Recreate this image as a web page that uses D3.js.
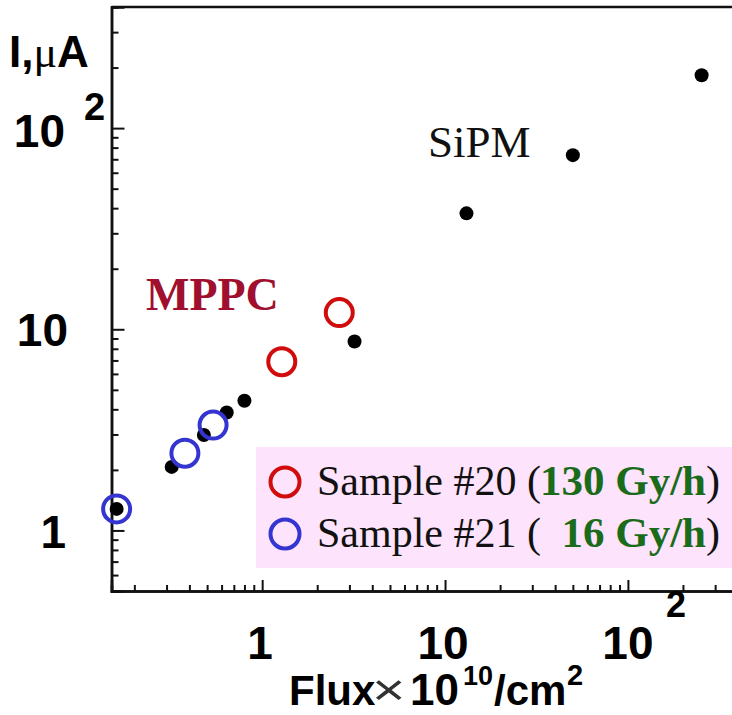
<!DOCTYPE html>
<html>
<head>
<meta charset="utf-8">
<script src="https://cdn.jsdelivr.net/npm/d3@7"></script>
<style>
  body { margin: 0; background: #fff; }
  svg { display: block; }
</style>
</head>
<body>
<svg id="chart"></svg>
<script>
// SiPM points (black dots)
var sipmFlux    = [0.16, 0.32, 0.48, 0.64, 0.80, 3.2, 13.1, 50, 253];
var sipmCurrent = [1.28, 2.07, 2.98, 3.86, 4.41, 8.7, 37.7, 73.4, 183];

// MPPC sample #20 (red) and #21 (blue)
var s20Flux    = [1.28, 2.64];
var s20Current = [6.9, 12.1];
var s21Flux    = [0.16, 0.378, 0.539];
var s21Current = [1.28, 2.42, 3.34];

var xMajor = [1, 10, 100];
var yMajor = [1, 10, 100];

var width = 732, height = 715;

var svg = d3.select("#chart")
    .attr("width", width)
    .attr("height", height);

svg.append("rect").attr("width", width).attr("height", height).attr("fill", "#fff");

var x = d3.scaleLog().domain([0.15, 400]).range([111.5, 738]);
var y = d3.scaleLog().domain([0.5, 400]).range([591, 7]);

// minor tick values
function minorTicks(lo, hi) {
    var out = [];
    for (var e = -1; e <= 2; e++) {
        for (var m = 2; m <= 9; m++) {
            var v = m * Math.pow(10, e);
            if (v > lo && v < hi) out.push(+v.toPrecision(3));
        }
    }
    return out;
}

// legend box (behind axes)
svg.append("rect")
    .attr("x", 256).attr("y", 447)
    .attr("width", 490).attr("height", 121)
    .attr("fill", "#fde3fb");

// axes
var gx = svg.append("g").attr("transform", "translate(0," + y(0.5) + ")");
gx.call(d3.axisBottom(x).tickValues(xMajor).tickSize(-11).tickFormat(""));
gx.append("g").call(d3.axisBottom(x).tickValues(minorTicks(0.15, 400)).tickSize(-6).tickFormat(""));

var gy = svg.append("g").attr("transform", "translate(" + x(0.15) + ",0)");
gy.call(d3.axisLeft(y).tickValues(yMajor).tickSize(-13).tickFormat(""));
gy.append("g").call(d3.axisLeft(y).tickValues(minorTicks(0.5, 400)).tickSize(-7).tickFormat(""));

svg.selectAll(".domain").attr("stroke", "#111").attr("stroke-width", 2.5);
svg.selectAll(".tick line").attr("stroke", "#111").attr("stroke-width", 2);

// top frame line
svg.append("line")
    .attr("x1", x(0.15)).attr("x2", width)
    .attr("y1", y(400)).attr("y2", y(400))
    .attr("stroke", "#111").attr("stroke-width", 2.5);

// tick labels
var bold = "'Liberation Sans', Arial, sans-serif";
var yLab = svg.append("g").attr("font-family", bold).attr("font-weight", "bold")
    .attr("font-size", 46).attr("fill", "#000");
yLab.append("text").attr("x", 66).attr("y", y(1) + 18).attr("text-anchor", "end").text("1");
yLab.append("text").attr("x", 68).attr("y", y(10) + 17).attr("text-anchor", "end").text("10");
yLab.append("text").attr("x", 65).attr("y", y(100) + 19).attr("text-anchor", "end").text("10");
yLab.append("text").attr("x", 84).attr("y", y(100) - 8).attr("font-size", 38).text("2");

var xLab = svg.append("g").attr("font-family", bold).attr("font-weight", "bold")
    .attr("font-size", 46).attr("fill", "#000").attr("text-anchor", "middle");
xLab.append("text").attr("x", x(1) - 2).attr("y", 659).text("1");
xLab.append("text").attr("x", x(10) - 2).attr("y", 659).text("10");
xLab.append("text").attr("x", x(100)).attr("y", 659).text("10");
xLab.append("text").attr("x", x(100) + 48).attr("y", 617).attr("font-size", 36).text("2");

// axis titles
var yt = svg.append("text").attr("x", 9).attr("y", 67)
    .attr("font-family", bold).attr("font-weight", "bold").attr("font-size", 44);
yt.append("tspan").text("I,");
yt.append("tspan").attr("font-family", "'Liberation Serif', serif").attr("font-weight", "normal").text("\u03bc");
yt.append("tspan").text("A");

var xt = svg.append("g").attr("font-family", bold).attr("font-weight", "bold")
    .attr("font-size", 42).attr("fill", "#000");
xt.append("text").attr("x", 289).attr("y", 705).text("Flux");
xt.append("text").attr("transform", "translate(372,705) scale(1.3,1)")
    .attr("font-weight", "normal").attr("font-size", 44).attr("fill", "#333").text("\u00d7");
xt.append("text").attr("x", 410).attr("y", 705).attr("font-size", 44).text("10");
xt.append("text").attr("x", 463).attr("y", 685).attr("font-size", 27).text("10");
xt.append("text").attr("x", 494).attr("y", 705).text("/cm");
xt.append("text").attr("x", 567).attr("y", 685).attr("font-size", 29).text("2");

// annotations
var serif = "'Liberation Serif', 'Times New Roman', serif";
svg.append("text").attr("x", 428).attr("y", 157)
    .attr("font-family", serif).attr("font-size", 45).attr("fill", "#111").text("SiPM");
svg.append("text").attr("x", 146).attr("y", 310)
    .attr("font-family", serif).attr("font-weight", "bold").attr("font-size", 46)
    .attr("fill", "#a0102e").text("MPPC");

// data marks
var sipm = sipmFlux.map(function(d, i) { return { x: d, y: sipmCurrent[i] }; });
var s20 = s20Flux.map(function(d, i) { return { x: d, y: s20Current[i] }; });
var s21 = s21Flux.map(function(d, i) { return { x: d, y: s21Current[i] }; });

svg.append("g").selectAll("circle").data(sipm).enter().append("circle")
    .attr("cx", d => x(d.x)).attr("cy", d => y(d.y))
    .attr("r", 7).attr("fill", "#000");

svg.append("g").selectAll("circle").data(s20).enter().append("circle")
    .attr("cx", d => x(d.x)).attr("cy", d => y(d.y))
    .attr("r", 13.5).attr("fill", "none").attr("stroke", "#d00c0c").attr("stroke-width", 4);

svg.append("g").selectAll("circle").data(s21).enter().append("circle")
    .attr("cx", d => x(d.x)).attr("cy", d => y(d.y))
    .attr("r", 13.5).attr("fill", "none").attr("stroke", "#3434d0").attr("stroke-width", 4);

// legend
var legendRows = [
    { color: "#d00c0c", label: "Sample #20 (", rate: "130 Gy/h", y: 495 },
    { color: "#3434d0", label: "Sample #21 (", rate: "16 Gy/h", y: 547 }
];
var lg = svg.append("g").attr("font-family", serif).attr("font-size", 42);
legendRows.forEach(function(r) {
    lg.append("circle").attr("cx", 285).attr("cy", r.y - 13).attr("r", 14.5)
        .attr("fill", "none").attr("stroke", r.color).attr("stroke-width", 4);
    lg.append("text").attr("x", 317).attr("y", r.y).attr("fill", "#111").text(r.label);
    lg.append("text").attr("x", 706).attr("y", r.y).attr("text-anchor", "end")
        .attr("font-weight", "bold").attr("font-size", 43).attr("fill", "#1a6b1a").text(r.rate);
    lg.append("text").attr("x", 706).attr("y", r.y).attr("fill", "#111").text(")");
});
</script>
</body>
</html>
